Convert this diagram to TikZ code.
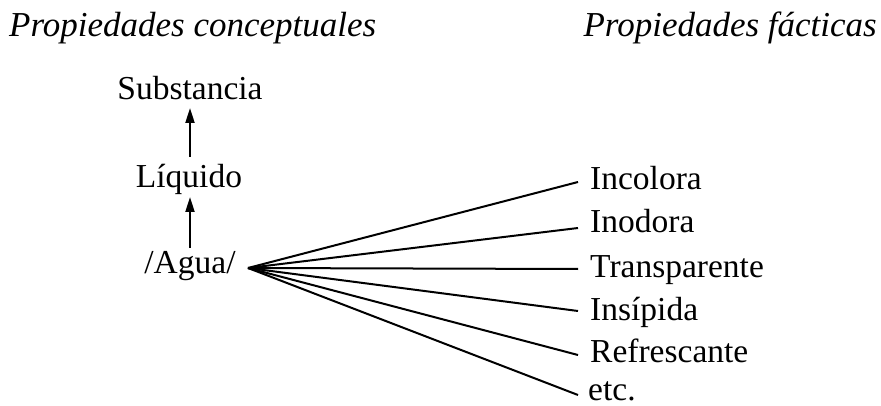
\documentclass[tikz,border=0pt]{standalone}
\usepackage{fontspec}
\setmainfont{Liberation Serif}
\usetikzlibrary{arrows.meta}
\begin{document}
\begin{tikzpicture}[x=1pt,y=-1pt,
  txt/.style={inner sep=0pt,font=\fontsize{33.5}{38}\selectfont},
  title/.style={inner sep=0pt,font=\fontsize{35}{40}\selectfont\itshape},
  lbl/.style={txt,anchor=base west},
  ctr/.style={txt,anchor=base},
  arr/.style={line width=2pt,-{Triangle[length=15pt,width=9pt]}},
  fan/.style={line width=2pt}]
\useasboundingbox (0,0) rectangle (881,406);
\node[title,anchor=base west] (t1) at (9,37) {Propiedades conceptuales};
\node[title,anchor=base east] (t2) at (877,37) {Propiedades fácticas};
\node[ctr] (sub) at (190,100) {Substancia};
\node[ctr] (liq) at (189,188) {Líquido};
\node[ctr] (agua) at (190,273) {/Agua/};
\draw[arr] (190,157) coordinate (a1s) -- (190,108) coordinate (a1e);
\draw[arr] (190,248) coordinate (a2s) -- (190,197) coordinate (a2e);
\coordinate (apex) at (248,268);
\node[lbl] (l1) at (590,190) {Incolora};
\node[lbl] (l2) at (590,233) {Inodora};
\node[lbl] (l3) at (590,277) {Transparente};
\node[lbl] (l4) at (590,320) {Insípida};
\node[lbl] (l5) at (590,362) {Refrescante};
\node[lbl] (l6) at (588,400) {etc.};
\coordinate (e1) at (578,182);
\coordinate (e2) at (578,228);
\coordinate (e3) at (578,269);
\coordinate (e4) at (578,311);
\coordinate (e5) at (578,355);
\coordinate (e6) at (578,395);
\foreach \e in {e1,e2,e3,e4,e5,e6} \draw[fan] (apex) -- (\e);
\end{tikzpicture}
\end{document}
